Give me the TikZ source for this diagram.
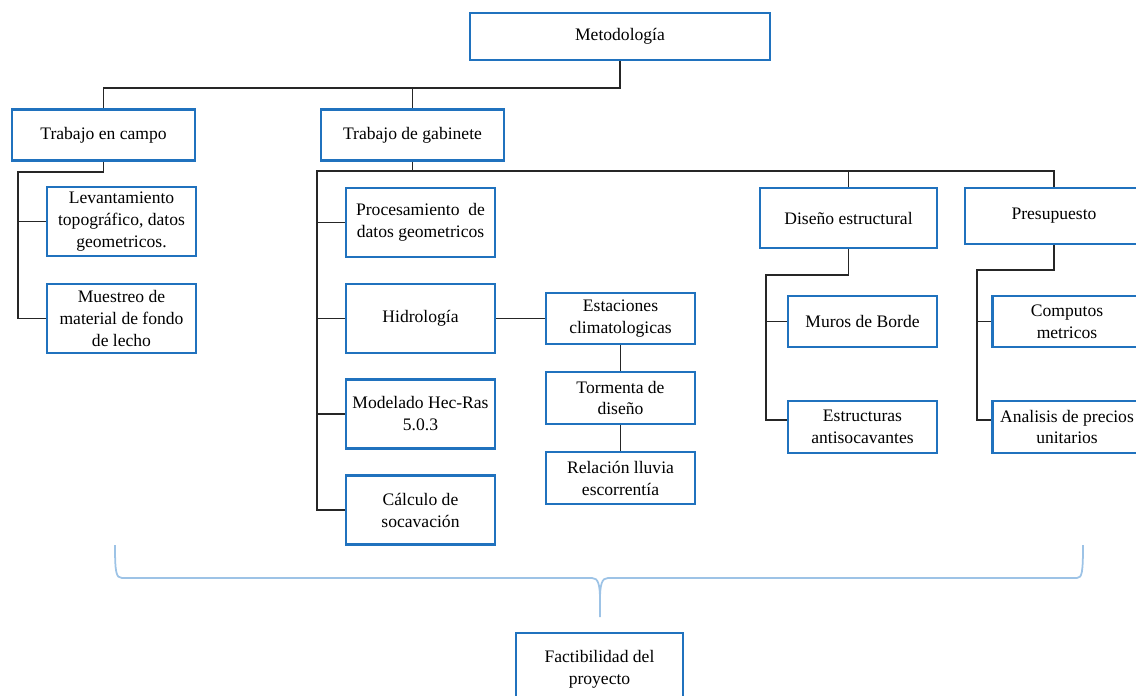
\documentclass[tikz,border=0pt]{standalone}
\usepackage{fontspec}
\setmainfont{Liberation Serif}
\definecolor{boxblue}{RGB}{32,114,190}
\definecolor{bracebl}{RGB}{157,195,230}

\begin{document}
\begin{tikzpicture}[
  x=0.02cm, y=-0.02cm,
  bbox/.style  = {draw=boxblue, line width=1.3pt, align=center, inner sep=2pt,
                  font=\fontsize{10}{12.5}\selectfont, fill=white},
  wbox/.style  = {bbox, minimum width=2.98cm, minimum height=1.38cm},
  sbox/.style  = {bbox, minimum width=2.98cm, minimum height=1.03cm},
  link/.style  = {line width=0.6pt, black!85},
  brace/.style = {line width=1pt, bracebl},
]
\useasboundingbox (0,0) rectangle (1136,696);

\node[bbox, minimum width=6.0cm, minimum height=0.94cm] (met) at (620,36.5) {Metodología};
\node[bbox, minimum width=3.66cm, minimum height=1.02cm] (tc) at (103.5,135) {Trabajo en campo};
\node[bbox, minimum width=3.66cm, minimum height=1.02cm] (tg) at (412.5,135) {Trabajo de gabinete};

% trabajo en campo
\node[wbox] (lev) at (121.5,221.5) {Levantamiento\\topográfico, datos\\geometricos.};
\node[wbox] (mue) at (121.5,318.5) {Muestreo de\\material de fondo\\de lecho};

% trabajo de gabinete
\node[wbox] (pro) at (420.5,222.5) {Procesamiento\ \ de\\datos geometricos};
\node[wbox] (hid) at (420.5,318.5) {Hidrología};
\node[wbox] (mod) at (420.5,414)   {Modelado Hec-Ras\\5.0.3};
\node[wbox] (cal) at (420.5,510)   {Cálculo de\\socavación};

\node[sbox] (est) at (620.5,318.5) {Estaciones\\climatologicas};
\node[sbox] (tor) at (620.5,398)   {Tormenta de\\diseño};
\node[sbox] (rel) at (620.5,478)   {Relación lluvia\\escorrentía};

\node[bbox, minimum width=3.54cm, minimum height=1.2cm]  (dis) at (848.5,218) {Diseño estructural};
\node[bbox, minimum width=3.56cm, minimum height=1.12cm] (pre) at (1054,216)  {Presupuesto};

\node[sbox] (mur) at (862.5,321.5) {Muros de Borde};
\node[sbox] (eas) at (862.5,427)   {Estructuras\\antisocavantes};
\node[sbox] (com) at (1067,321.5)  {Computos\\metricos};
\node[sbox] (apu) at (1067,427)    {Analisis de precios\\unitarios};

\node[bbox, minimum width=3.34cm, minimum height=1.44cm] (fac) at (599.5,669) {Factibilidad del\\proyecto};

% connectors
\coordinate (mbus) at (620,88);
\coordinate (cv)   at (18,172);
\coordinate (gv)   at (317,171);
\coordinate (dv)   at (766,275);
\coordinate (pv)   at (977,270);

\draw[link] (met.south) -- (mbus) -| (tc.north);
\draw[link] (mbus) -| (tg.north);

\draw[link] (tc.south) |- (cv) |- (mue.west);
\draw[link] (cv) |- (lev.west);

\draw[link] (tg.south) |- (gv) |- (cal.west);
\draw[link] (gv) |- (pro.west);
\draw[link] (gv) |- (hid.west);
\draw[link] (gv) |- (mod.west);
\draw[link] (tg.south |- gv) -| (dis.north);
\draw[link] (dis.north |- gv) -| (pre.north);

\draw[link] (hid.east) -- (est.west);
\draw[link] (est.south) -- (tor.north);
\draw[link] (tor.south) -- (rel.north);

\draw[link] (dis.south) |- (dv) |- ([yshift=4pt]eas.west);
\draw[link] (dv) |- (mur.west);
\draw[link] (pre.south) |- (pv) |- ([yshift=4pt]apu.west);
\draw[link] (pv) |- (com.west);

% brace
\coordinate (btip) at (600,617);
\draw[brace] (115,545) .. controls (115,572) and (116,578) .. (122,578)
  -- (592,578) .. controls (598,578) and (600,584) .. (600,600) -- (btip);
\draw[brace] (1083,545) .. controls (1083,572) and (1082,578) .. (1077,578)
  -- (608,578) .. controls (602,578) and (600,584) .. (600,600);

\end{tikzpicture}
\end{document}
